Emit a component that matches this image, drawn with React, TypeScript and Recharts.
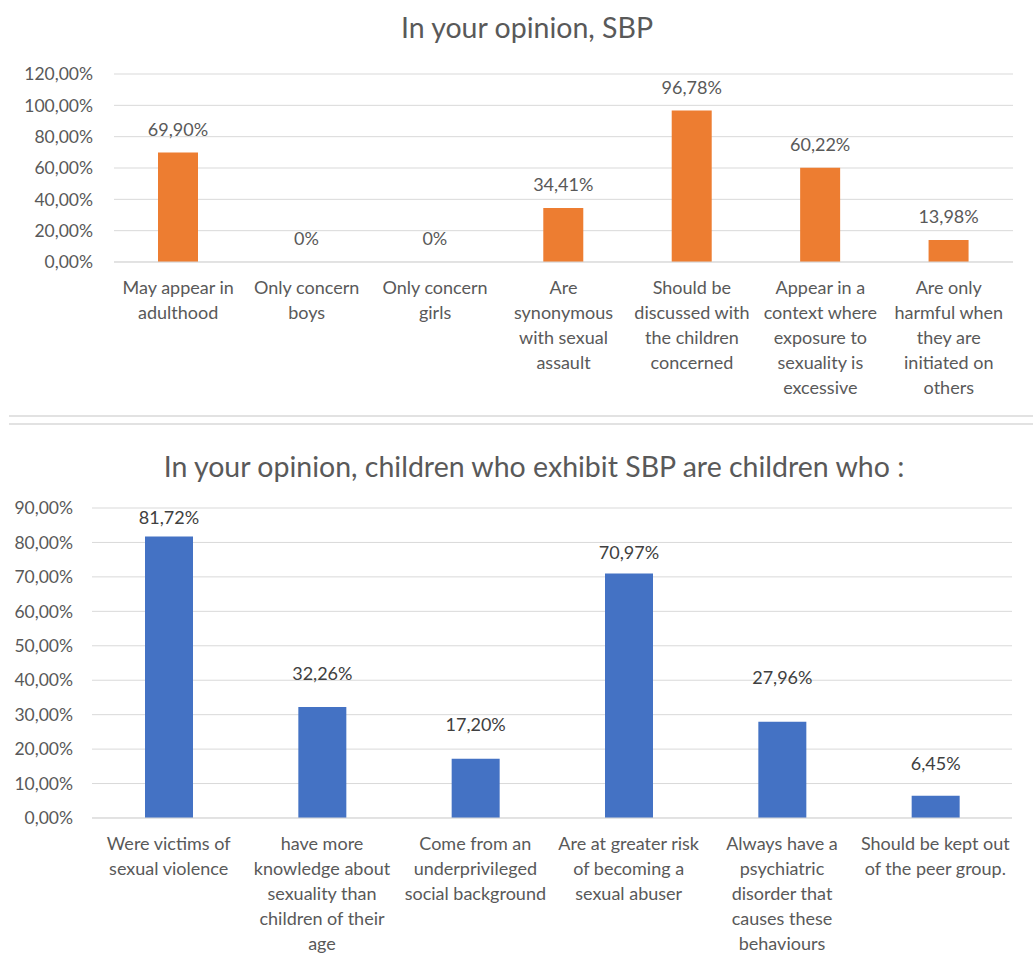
import { BarChart, Bar, XAxis, YAxis, CartesianGrid, LabelList } from 'recharts';

// top chart: "In your opinion, SBP"
const topCategories = [
  'May appear in\nadulthood',
  'Only concern\nboys',
  'Only concern\ngirls',
  'Are\nsynonymous\nwith sexual\nassault',
  'Should be\ndiscussed with\nthe children\nconcerned',
  'Appear in a\ncontext where\nexposure to\nsexuality is\nexcessive',
  'Are only\nharmful when\nthey are\ninitiated on\nothers',
];
const topValues = [69.9, 0, 0, 34.41, 96.78, 60.22, 13.98];
const topTicks = [0, 20, 40, 60, 80, 100, 120];

// bottom chart: "children who exhibit SBP are children who :"
const bottomCategories = [
  'Were victims of\nsexual violence',
  'have more\nknowledge about\nsexuality than\nchildren of their\nage',
  'Come from an\nunderprivileged\nsocial background',
  'Are at greater risk\nof becoming a\nsexual abuser',
  'Always have a\npsychiatric\ndisorder that\ncauses these\nbehaviours',
  'Should be kept out\nof the peer group.',
];
const bottomValues = [81.72, 32.26, 17.2, 70.97, 27.96, 6.45];
const bottomTicks = [0, 10, 20, 30, 40, 50, 60, 70, 80, 90];

const topData = topCategories.map((name, i) => ({ name, value: topValues[i] }));
const bottomData = bottomCategories.map((name, i) => ({ name, value: bottomValues[i] }));

const FONT = 'Lato, "Open Sans", sans-serif';
const GRID = '#d9d9d9';
const TEXT = '#595959';
const FS = 17.5;
const CAT_FS = 18;

// label lifts above bar tops (labels were hand-placed in the original)
const topLift = 23;
const bottomLift = [19, 33, 34, 21, 44, 32];

const pct = (v: number) => v.toFixed(2).replace('.', ',') + '%';
const valueText = (v: number) => (v === 0 ? '0%' : pct(v));

const WrappedTick = ({ x, y, payload }: any) => {
  const lines = String(payload.value).split('\n');
  return (
    <text textAnchor="middle" fill={TEXT} fontSize={CAT_FS} fontFamily={FONT}>
      {lines.map((line, i) => (
        <tspan key={i} x={x} y={y + 32 + i * 25}>
          {line}
        </tspan>
      ))}
    </text>
  );
};

const makeLabel = (lift: number | number[], color: string) => (props: any) => {
  const { x, y, width, value, index } = props;
  const d = Array.isArray(lift) ? lift[index] : lift;
  return (
    <text
      x={Number(x) + Number(width) / 2}
      y={Number(y) - d}
      dy="0.35em"
      textAnchor="middle"
      fill={color}
      fontSize={18}
      fontFamily={FONT}
    >
      {valueText(Number(value))}
    </text>
  );
};

const App = () => {
  return (
    <div style={{ position: 'absolute', left: 0, top: 0, width: 1033, height: 955, background: '#fff' }}>
      <svg width={1033} height={955} style={{ position: 'absolute', left: 0, top: 0 }}>
        <text x={527} y={38} textAnchor="middle" fill={TEXT} fontSize={28.5} fontFamily={FONT}>
          In your opinion, SBP
        </text>
        <line x1={9} x2={1033} y1={416} y2={416} stroke={GRID} strokeWidth={1.5} />
        <line x1={9} x2={1033} y1={424} y2={424} stroke={GRID} strokeWidth={1.5} />
        <text x={534} y={477} textAnchor="middle" fill={TEXT} fontSize={28.5} fontFamily={FONT}>
          In your opinion, children who exhibit SBP are children who :
        </text>
      </svg>

      <div style={{ position: 'absolute', left: 0, top: 0 }}>
        <BarChart width={1033} height={414} data={topData} margin={{ top: 74, right: 20, bottom: 12, left: 14 }}>
          <CartesianGrid vertical={false} stroke={GRID} />
          <XAxis
            dataKey="name"
            height={140}
            interval={0}
            tickLine={false}
            tickSize={0}
            tickMargin={0}
            axisLine={{ stroke: GRID }}
            tick={<WrappedTick />}
          />
          <YAxis
            width={100}
            domain={[0, 120]}
            ticks={topTicks}
            axisLine={false}
            tickLine={false}
            tickSize={0}
            tickMargin={21}
            tickFormatter={pct}
            tick={{ fill: TEXT, fontSize: FS, fontFamily: FONT }}
          />
          <Bar dataKey="value" fill="#ED7D31" barSize={40} minPointSize={0.01} isAnimationActive={false}>
            <LabelList dataKey="value" content={makeLabel(topLift, TEXT)} />
          </Bar>
        </BarChart>
      </div>

      <div style={{ position: 'absolute', left: 0, top: 424 }}>
        <BarChart width={1033} height={531} data={bottomData} margin={{ top: 84, right: 21, bottom: 7, left: 12 }}>
          <CartesianGrid vertical={false} stroke={GRID} />
          <XAxis
            dataKey="name"
            height={130}
            interval={0}
            tickLine={false}
            tickSize={0}
            tickMargin={0}
            axisLine={{ stroke: GRID }}
            tick={<WrappedTick />}
          />
          <YAxis
            width={80}
            domain={[0, 90]}
            ticks={bottomTicks}
            axisLine={false}
            tickLine={false}
            tickSize={0}
            tickMargin={19}
            tickFormatter={pct}
            tick={{ fill: TEXT, fontSize: FS, fontFamily: FONT }}
          />
          <Bar dataKey="value" fill="#4472C4" barSize={48} isAnimationActive={false}>
            <LabelList dataKey="value" content={makeLabel(bottomLift, '#404040')} />
          </Bar>
        </BarChart>
      </div>
    </div>
  );
};

export default App;
